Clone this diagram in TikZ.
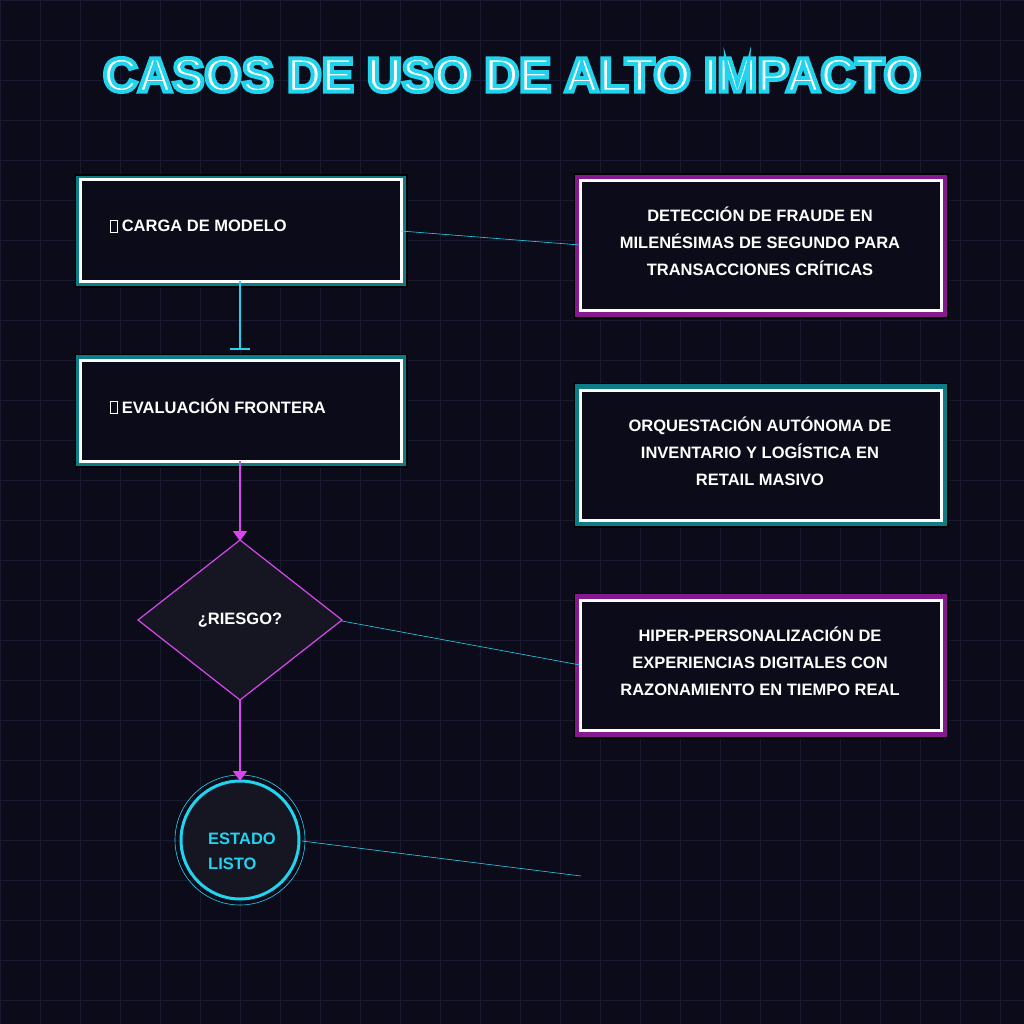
\documentclass[tikz,border=0pt]{standalone}
\usepackage{fontspec}
\setmainfont{Liberation Sans}
\usetikzlibrary{arrows.meta}
\definecolor{bg}{HTML}{0B0B1A}
\definecolor{gridc}{HTML}{191930}
\definecolor{cy}{HTML}{22D3EE}
\definecolor{teal}{HTML}{0E7C86}
\definecolor{mag}{HTML}{D946EF}
\definecolor{dmag}{HTML}{86198F}
\definecolor{dfill}{HTML}{161622}
\tikzset{
 txt/.style={text=white,font=\bfseries\fontsize{16.5}{27}\selectfont,align=center},
 glowt/.style={draw=teal,line width=5pt},
 glowm/.style={draw=dmag,line width=5pt},
 inner/.style={draw=white,line width=3pt,fill=bg},
 thin/.style={draw=cy,line width=0.6pt},
 marr/.style={draw=mag,line width=1.8pt,-{Triangle[width=14pt,length=10pt]}},
}
\newcommand{\tofu}{\tikz[baseline=0pt]\draw[white,line width=0.7pt](0,0) rectangle (7pt,12pt);}
\begin{document}
\begin{tikzpicture}[x=1pt,y=-1pt]
\fill[bg] (0,0) rectangle (1024,1024);
\useasboundingbox (0,0) rectangle (1024,1024);
\foreach \i in {0,40,...,1000}{\draw[gridc,line width=0.8pt] (\i,0)--(\i,1024); \draw[gridc,line width=0.8pt] (0,\i)--(1024,\i);}
% title
\node[text=white,font=\bfseries\fontsize{48}{48}\selectfont] (title) at (512,75) {\special{pdf:code q 2 Tr 4 w 0.13 0.83 0.93 RG}CASOS DE USO DE ALTO IMPACTO\special{pdf:code Q}};
% left boxes
\draw[black,line width=3pt] (76,176) rectangle (406,286);
\draw[glowt] (78.5,178.5) rectangle (403.5,283);
\draw[inner] (80,180) rectangle (401,281);
\node[anchor=west,txt] (b1) at (106,226) {\tofu\ CARGA DE MODELO};
\coordinate (b1r) at (401,231);
\draw[black,line width=3pt] (76,355) rectangle (406,466);
\draw[glowt] (78.5,357.5) rectangle (403.5,463);
\draw[inner] (80,360) rectangle (401,461);
\node[anchor=west,txt] (b2) at (106,406) {\tofu\ EVALUACIÓN FRONTERA};
\coordinate (b1b) at (240,281); \coordinate (b2t) at (240,350);
\draw[cy,line width=2pt,-{Bar[width=20pt]}] (b1b)--(b2t);
% diamond
\draw[mag,line width=1.2pt,fill=dfill] (240,540)--(342,620)--(240,700)--(138,620)--cycle;
\node[txt] (d) at (240,620) {¿RIESGO?};
\coordinate (b2b) at (240,461); \coordinate (dt) at (240,541);
\draw[marr] (b2b)--(dt);
\coordinate (db) at (240,700); \coordinate (ct) at (240,781);
\draw[cy,line width=0.6pt] (240,840) circle (65);
\draw[cy,line width=3pt,fill=dfill] (240,840) circle (59);
\node[text=cy,font=\bfseries\fontsize{16.5}{25}\selectfont,align=left] (c) at (242,851) {ESTADO\\ LISTO};
\draw[marr] (db)--(ct);
% right boxes
\draw[black,line width=3pt] (575,175) rectangle (947,317);
\draw[glowm] (577.5,177.5) rectangle (944.5,314);
\draw[inner] (580,181) rectangle (941,310);
\node[txt] (r1) at (760,241) {DETECCIÓN DE FRAUDE EN\\MILENÉSIMAS DE SEGUNDO PARA\\TRANSACCIONES CRÍTICAS};
\draw[black,line width=3pt] (575,384) rectangle (947,526);
\draw[glowt] (577.5,386.5) rectangle (944.5,523);
\draw[inner] (580,390) rectangle (941,520);
\node[txt] (r2) at (760,451) {ORQUESTACIÓN AUTÓNOMA DE\\INVENTARIO Y LOGÍSTICA EN\\RETAIL MASIVO};
\draw[black,line width=3pt] (575,594) rectangle (947,737);
\draw[glowm] (577.5,596.5) rectangle (944.5,734);
\draw[inner] (580,600) rectangle (941,730);
\node[txt] (r3) at (760,661) {HIPER-PERSONALIZACIÓN DE\\EXPERIENCIAS DIGITALES CON\\RAZONAMIENTO EN TIEMPO REAL};
\coordinate (r1l) at (580,245); \coordinate (r3l) at (580,665);
\coordinate (dr) at (342,621); \coordinate (cr) at (302,841); \coordinate (free) at (581,876);
\draw[thin] (b1r)--(r1l);
\draw[thin] (dr)--(r3l);
\draw[thin] (cr)--(free);
\end{tikzpicture}
\end{document}
